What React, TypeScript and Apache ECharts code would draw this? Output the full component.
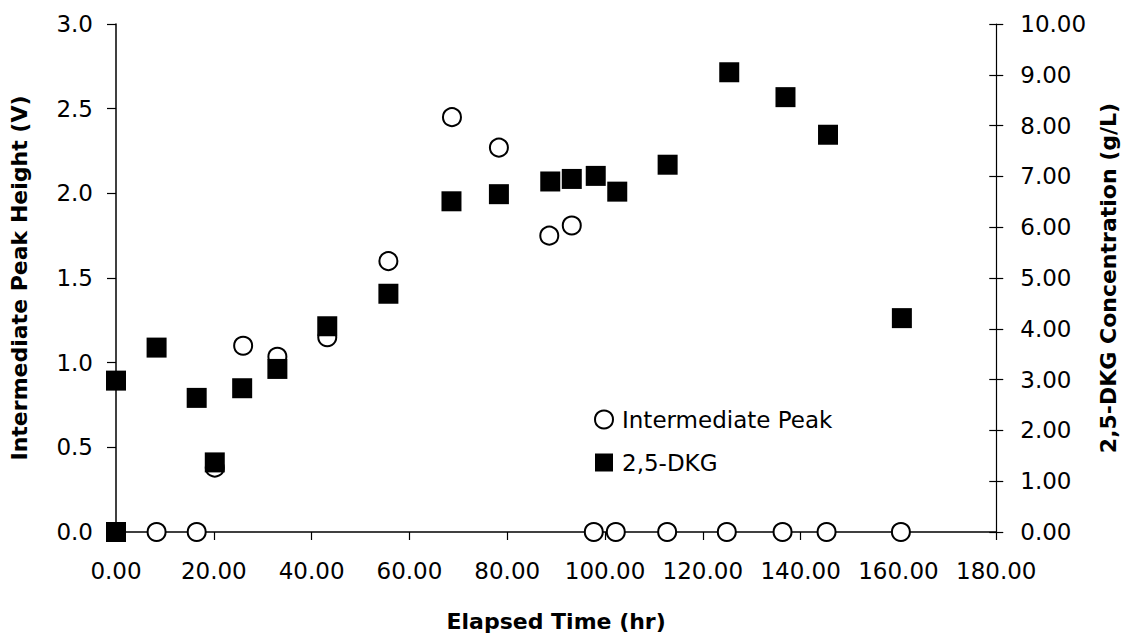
import React, { useEffect, useRef } from "react";
import * as echarts from "echarts";

// Intermediate peak height (V) against elapsed time (hr)
const peakTimes = [8.3, 16.5, 20.2, 26.0, 33.0, 43.2, 55.7, 68.7, 78.3, 88.6, 93.2, 97.7, 102.2, 112.7, 124.9, 136.3, 145.3, 160.5];
const peakHeights = [0, 0, 0.38, 1.1, 1.035, 1.15, 1.6, 2.45, 2.27, 1.75, 1.81, 0, 0, 0, 0, 0, 0, 0];

// 2,5-DKG concentration (g/L) against elapsed time (hr)
const dkgTimes = [0, 0, 8.3, 16.5, 20.2, 25.8, 33.0, 43.2, 55.7, 68.6, 78.3, 88.8, 93.2, 98.1, 102.5, 112.8, 125.4, 136.9, 145.6, 160.7];
const dkgConc = [0, 2.98, 3.63, 2.64, 1.37, 2.83, 3.21, 4.05, 4.69, 6.51, 6.65, 6.9, 6.95, 7.01, 6.7, 7.23, 9.05, 8.56, 7.82, 4.21];

const seriesNames = ["Intermediate Peak", "2,5-DKG"];
const xTitle = "Elapsed Time (hr)";
const yLeftTitle = "Intermediate Peak Height (V)";
const yRightTitle = "2,5-DKG Concentration (g/L)";

const FONT = "DejaVu Sans";

export default function App() {
  const ref = useRef<HTMLDivElement>(null);

  useEffect(() => {
    if (!ref.current) return;
    const chart = echarts.init(ref.current, undefined, { renderer: "svg" });

    const peakData = peakTimes.map((t, i) => [t, peakHeights[i]]);
    const dkgData = dkgTimes.map((t, i) => [t, dkgConc[i]]);

    const axisLineStyle = { color: "#000", width: 1.5 };
    const labelStyle = { color: "#000", fontSize: 23, fontFamily: FONT };
    const titleStyle = { color: "#000", fontSize: 22, fontWeight: "bold" as const, fontFamily: FONT };

    chart.setOption({
      animation: false,
      backgroundColor: "#fff",
      textStyle: { fontFamily: FONT },
      grid: { left: 115, right: 128, top: 24, bottom: 106 },
      legend: {
        orient: "vertical",
        left: 589,
        top: 403,
        itemWidth: 26,
        itemHeight: 18,
        itemGap: 20,
        textStyle: { color: "#000", fontSize: 23, fontFamily: FONT },
        data: [
          {
            name: seriesNames[0],
            icon: "circle",
            itemStyle: { color: "#fff", borderColor: "#000", borderWidth: 2 },
          },
          {
            name: seriesNames[1],
            icon: "path://M0 0H10V10H0Z",
            itemStyle: { color: "#000" },
          },
        ],
      },
      xAxis: {
        type: "value",
        min: 0,
        max: 180,
        interval: 20,
        name: xTitle,
        nameLocation: "middle",
        nameGap: 78,
        nameTextStyle: titleStyle,
        axisLine: { show: true, onZero: false, lineStyle: axisLineStyle },
        axisTick: { show: true, length: 8, lineStyle: { color: "#000", width: 1.2 } },
        axisLabel: { ...labelStyle, margin: 27, formatter: (v: number) => v.toFixed(2) },
        splitLine: { show: false },
      },
      yAxis: [
        {
          type: "value",
          position: "left",
          min: 0,
          max: 3,
          interval: 0.5,
          name: yLeftTitle,
          nameLocation: "middle",
          nameRotate: 90,
          nameGap: 86,
          nameTextStyle: titleStyle,
          axisLine: { show: true, lineStyle: axisLineStyle },
          axisTick: { show: true, length: 9, lineStyle: { color: "#000", width: 1.2 } },
          axisLabel: { ...labelStyle, margin: 23, formatter: (v: number) => v.toFixed(1) },
          splitLine: { show: false },
        },
        {
          type: "value",
          position: "right",
          min: 0,
          max: 10,
          interval: 1,
          name: yRightTitle,
          nameLocation: "middle",
          nameRotate: 90,
          nameGap: 100,
          nameTextStyle: titleStyle,
          axisLine: { show: true, lineStyle: { color: "#000", width: 1.2 } },
          axisTick: { show: true, length: 7, lineStyle: { color: "#000", width: 1.2 } },
          axisLabel: { ...labelStyle, margin: 24, formatter: (v: number) => v.toFixed(2) },
          splitLine: { show: false },
        },
        {
          // inner half of the crossing ticks on the right axis
          type: "value",
          position: "right",
          min: 0,
          max: 10,
          interval: 1,
          axisLine: { show: false },
          axisTick: { show: true, inside: true, length: 7, lineStyle: { color: "#000", width: 1.2 } },
          axisLabel: { show: false },
          splitLine: { show: false },
        },
      ],
      series: [
        {
          name: seriesNames[0],
          type: "scatter",
          yAxisIndex: 0,
          symbol: "circle",
          symbolSize: 18,
          itemStyle: { color: "#fff", borderColor: "#000", borderWidth: 2, opacity: 1 },
          data: peakData,
        },
        {
          name: seriesNames[1],
          type: "scatter",
          yAxisIndex: 1,
          symbol: "rect",
          symbolSize: 20,
          itemStyle: { color: "#000", opacity: 1 },
          data: dkgData,
        },
      ],
    });

    return () => chart.dispose();
  }, []);

  return (
    <div
      ref={ref}
      style={{ position: "absolute", left: 0, top: 0, width: 1127, height: 638, background: "#fff" }}
    />
  );
}
